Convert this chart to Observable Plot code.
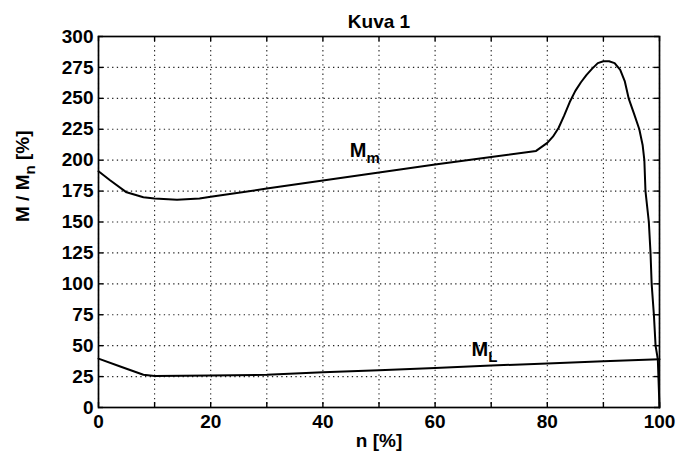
<!DOCTYPE html>
<html>
<head>
<meta charset="utf-8">
<script src="https://cdn.jsdelivr.net/npm/d3@7"></script>
<script src="https://cdn.jsdelivr.net/npm/@observablehq/plot@0.6"></script>
<style>
  html, body { margin: 0; padding: 0; background: #fff; }
  #chart svg { display: block; }
</style>
</head>
<body>
<div id="chart"></div>
<script>
// ---- data ----
const title = "Kuva 1";
const xLabel = "n [%]";
const yLabel = "M / M_n [%]";

const xTickLabels = [0, 20, 40, 60, 80, 100];
const xGrid = [0, 10, 20, 30, 40, 50, 60, 70, 80, 90, 100];
const yTickLabels = [0, 25, 50, 75, 100, 125, 150, 175, 200, 225, 250, 275, 300];

// motor torque M_m
const mmN = [0, 2, 5, 8, 10, 14, 18, 20, 30, 40, 50, 60, 70, 78, 80, 81, 82, 83, 84, 85, 86, 87, 88, 89, 90, 91, 92, 93, 93.8, 94.5, 95.5, 96.4, 97, 97.3, 97.5, 98.1, 98.4, 98.6, 99, 99.3, 99.7, 100];
const mmM = [191, 184, 174, 170, 169, 168, 169, 170.5, 177, 183.5, 190, 196.5, 202.5, 207.5, 214, 219, 226, 236, 247, 256, 263, 269, 274, 278.5, 280, 280, 278.5, 273, 264, 250, 237, 225, 212, 200, 175, 150, 125, 100, 75, 50, 39, 0];

// load torque M_L
const mlN = [0, 4, 8, 10, 20, 30, 40, 50, 60, 70, 80, 90, 100];
const mlM = [39.5, 33, 26.5, 25.5, 25.8, 26.5, 28.5, 30.2, 32, 34, 35.5, 37.3, 39];

// curve labels
const curveLabels = [
  {n: 44.8, m: 208, main: "M", sub: "m"},
  {n: 66.5, m: 47, main: "M", sub: "L"}
];

// ---- build ----
const mm = mmN.map((n, i) => ({n, m: mmM[i]}));
const ml = mlN.map((n, i) => ({n, m: mlM[i]}));

const W = 686, H = 456;
const mL = 98, mR = 27, mT = 36, mB = 49;
const plotW = W - mL - mR, plotH = H - mT - mB;
const tick = 5;
const font = "Liberation Sans, Arial, Helvetica, sans-serif";
const fs = 19;
const fw = "bold";

const chart = Plot.plot({
  width: W,
  height: H,
  marginLeft: mL, marginRight: mR, marginTop: mT, marginBottom: mB,
  style: {fontFamily: font, fontSize: fs + "px", background: "#fff", color: "#000"},
  x: {domain: [0, 100]},
  y: {domain: [0, 300]},
  marks: [
    // dotted grid
    Plot.ruleX(xGrid, {stroke: "#222", strokeWidth: 1.1, strokeDasharray: "1.3,3.4"}),
    Plot.ruleY(yTickLabels, {stroke: "#222", strokeWidth: 1.1, strokeDasharray: "1.3,3.4"}),
    // inward ticks
    Plot.tickX(xGrid, {x: d => d, insetTop: plotH - tick, stroke: "#000", strokeWidth: 1.4}),
    Plot.tickX(xGrid, {x: d => d, insetBottom: plotH - tick, stroke: "#000", strokeWidth: 1.4}),
    Plot.tickY(yTickLabels, {y: d => d, insetRight: plotW - tick, stroke: "#000", strokeWidth: 1.4}),
    Plot.tickY(yTickLabels, {y: d => d, insetLeft: plotW - tick, stroke: "#000", strokeWidth: 1.4}),
    // axes (labels only)
    Plot.axisX(xTickLabels, {tickSize: 0, tickPadding: 7, label: null, fontSize: fs, fontWeight: fw, fill: "#000"}),
    Plot.axisY(yTickLabels, {tickSize: 0, tickPadding: 5, label: null, fontSize: fs, fontWeight: fw, fill: "#000"}),
    // curves
    Plot.line(mm, {x: "n", y: "m", stroke: "#000", strokeWidth: 2, curve: "linear"}),
    Plot.line(ml, {x: "n", y: "m", stroke: "#000", strokeWidth: 2, curve: "linear"}),
    // curve labels
    Plot.text(curveLabels, {x: "n", y: "m", text: d => d.main + "_" + d.sub, textAnchor: "start", fontSize: fs + 1, fontWeight: fw, fill: "#000"}),
    Plot.frame({stroke: "#000", strokeWidth: 1.7}),
    // titles
    Plot.text([title], {frameAnchor: "top", dy: -22, fontSize: fs, fontWeight: fw, fill: "#000"}),
    Plot.text([xLabel], {frameAnchor: "bottom", dy: 39, fontSize: fs, fontWeight: fw, fill: "#000"}),
    Plot.text([yLabel], {frameAnchor: "left", dx: -76, rotate: -90, fontSize: fs, fontWeight: fw, fill: "#000"})
  ]
});

// turn "X_y" into real subscripts
d3.select(chart).selectAll("text").each(function () {
  const t = this.textContent;
  if (t.includes("_")) {
    const idx = t.indexOf("_");
    const main = t.slice(0, idx);
    const sub = t.slice(idx + 1, idx + 2);
    const rest = t.slice(idx + 2);
    const el = d3.select(this);
    el.text(null);
    el.append("tspan").text(main);
    el.append("tspan").attr("dy", 6).attr("font-size", fs - 4).text(sub);
    if (rest) el.append("tspan").attr("dy", -6).text(rest);
  }
});

document.getElementById("chart").appendChild(chart);
</script>
</body>
</html>
